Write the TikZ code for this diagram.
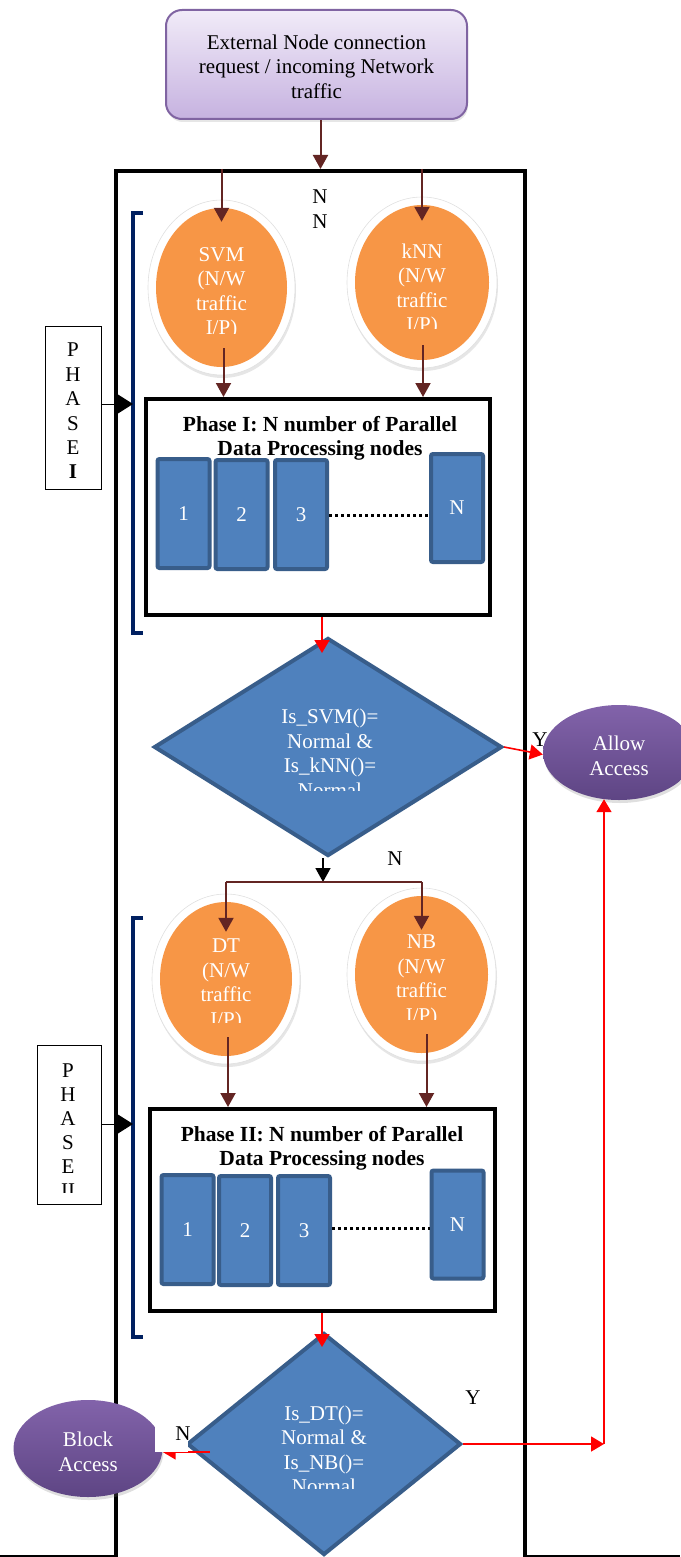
\documentclass[tikz,border=0pt]{standalone}
\usepackage{fontspec}
\setmainfont{Liberation Serif}
\usetikzlibrary{arrows.meta,shapes.geometric,shadows,calc}
\definecolor{dred}{HTML}{632523}
\definecolor{orng}{HTML}{F79646}
\definecolor{bfill}{HTML}{4F81BD}
\definecolor{bline}{HTML}{385D8A}
\definecolor{navy}{HTML}{002060}
\definecolor{ptop}{HTML}{8263AA}
\definecolor{pbot}{HTML}{5E4584}
\definecolor{ltop}{HTML}{F1EBF8}
\definecolor{lbot}{HTML}{C6B2E0}
\definecolor{lline}{HTML}{8064A2}
\begin{document}
\begin{tikzpicture}[x=1pt,y=-1pt,
 txt/.style={font=\fontsize{21}{24.5}\selectfont, align=center, inner sep=0pt},
 wtxt/.style={txt, text=white},
 lbl/.style={font=\fontsize{21}{24.5}\selectfont, inner sep=0pt},
 darr/.style={draw=dred, line width=2pt, -{Triangle[length=14pt,width=15pt]}},
 rarr/.style={draw=red, line width=1.6pt, -{Triangle[length=13pt,width=15pt]}},
 karr/.style={draw=black, line width=1.5pt, -{Triangle[length=14pt,width=15pt]}},
 parr/.style={draw=black, line width=1pt, -{Triangle[length=16pt,width=20pt]}},
 orb/.style={ellipse, fill=orng, draw=none, inner sep=0pt},
 ring/.style={ellipse, fill=white, draw=black!12, line width=0.6pt, inner sep=0pt,
   drop shadow={opacity=0.2, shadow xshift=1pt, shadow yshift=-3pt}},
 pnode/.style={rectangle, draw=bline, line width=4pt, fill=bfill, inner sep=0pt,
   rounded corners=2pt, minimum width=52pt, minimum height=109pt, text=white,
   font=\fontsize{21}{24.5}\selectfont},
 phbox/.style={rectangle, draw=black, line width=4pt, fill=white, inner sep=0pt},
 dia/.style={diamond, draw=bline, line width=4pt, fill=bfill, inner sep=0pt},
 acc/.style={ellipse, top color=ptop, bottom color=pbot, draw=none, inner sep=0pt,
   drop shadow={opacity=0.25, shadow xshift=1pt, shadow yshift=-3pt}},
 brk/.style={draw=navy, line width=3.5pt},
 phl/.style={rectangle, draw=black, line width=1pt, fill=white, inner sep=0pt},
 dots/.style={draw=black, line width=3pt, dash pattern=on 3pt off 3pt}
]
\useasboundingbox (0,0) rectangle (680,1557);

% outer frame
\node[draw=black, line width=4pt, minimum width=409pt, minimum height=1429pt, inner sep=0pt]
  (big) at (320.5,885.5) {};
\draw[line width=1.5pt] (0,1556) -- (116,1556);
\draw[line width=1.5pt] (525,1556) -- (680,1556);

% top request box
\node[rectangle, rounded corners=16pt, top color=ltop, bottom color=lbot, draw=lline,
  line width=2pt, minimum width=301pt, minimum height=109pt, inner sep=0pt,
  drop shadow={opacity=0.2, shadow xshift=1pt, shadow yshift=-3pt}] (top) at (316.5,64.5) {};
\node[txt] (topt) at (316.5,66.5) {External Node connection\\request / incoming Network\\traffic};
\draw[darr] (big.north |- top.south) -- (big.north);

\node[lbl] (n1) at (320,197) {N};
\node[lbl] (n2) at (320,222) {N};

% brackets
\draw[brk] (143,213) -- (133,213) -- (133,633) -- (143,633);
\coordinate (br1) at (133,404);
\draw[brk] (143,918) -- (133,918) -- (133,1337) -- (143,1337);
\coordinate (br2) at (133,1124);

% PHASE labels
\node[phl, minimum width=56pt, minimum height=163pt] (ph1) at (73,407.5) {};
\node[font=\fontsize{21}{24.4}\selectfont, align=center, inner sep=0pt] (ph1t) at (73,411) {P\\H\\A\\S\\E\\\textbf{I}};
\draw[parr] (ph1.east |- br1) -- (br1);

\node[phl, minimum width=64pt, minimum height=159pt] (ph2) at (69,1124.5) {};
\begin{scope}
\clip (40,1050) rectangle (98,1192);
\node[font=\fontsize{21}{24}\selectfont, align=center, inner sep=0pt] (ph2t) at (68,1131) {P\\H\\A\\S\\E\\II};
\end{scope}
\draw[parr] (ph2.east |- br2) -- (br2);

% Phase I ellipses
\node[ring, minimum width=147pt, minimum height=175pt] (svmr) at (221.5,287.5) {};
\node[orb, minimum width=131pt, minimum height=159pt] (svm) at (221.5,287.5) {};
\begin{scope}
\clip (150,200) rectangle (295,333);
\node[wtxt] (svmt) at (221.5,293.5) {SVM\\(N/W\\traffic\\I/P)};
\end{scope}

\node[ring, minimum width=150pt, minimum height=171pt] (knnr) at (422,282.5) {};
\node[orb, minimum width=134pt, minimum height=155pt] (knn) at (422,282.5) {};
\begin{scope}
\clip (350,200) rectangle (495,328);
\node[wtxt] (knnt) at (422,290) {kNN\\(N/W\\traffic\\I/P)};
\end{scope}

% Phase I box
\node[phbox, minimum width=344pt, minimum height=216pt] (p1) at (318,507) {};
\node[txt, font=\fontsize{21.5}{24}\selectfont\bfseries] (p1t) at (320,438) {Phase I: N number of Parallel\\Data Processing nodes};
\node[pnode] (a1) at (183.5,513.5) {1};
\node[pnode] (a2) at (241.5,514.5) {2};
\node[pnode] (a3) at (301,514.5) {3};
\node[pnode, minimum height=108pt] (aN) at (457,508) {N};
\draw[dots] (a3.east |- 0,515) -- (aN.west |- 0,515);

% arrows Phase I
\draw[darr] (svm.north |- big.north) -- ($(svm.north)+(0,14)$);
\draw[darr] (knn.north |- big.north) -- ($(knn.north)+(0,16)$);
\draw[darr] ($(svm.south)+(2,-19)$) -- ($(svm.south |- p1.north)+(2,0)$);
\draw[darr] ($(knn.south)+(1,-15)$) -- ($(knn.south |- p1.north)+(1,0)$);

% decision 1
\node[dia, minimum width=348pt, minimum height=218pt] (d1) at (328,747) {};
\begin{scope}
\clip (200,690) rectangle (460,790);
\node[wtxt] (d1t) at (330,753.5) {Is\_SVM()=\\Normal \&\\Is\_kNN()=\\Normal};
\end{scope}
\coordinate (d1in) at (322,653);
\draw[rarr] (p1.south -| d1in) -- (d1in);

\node[lbl] (y1) at (540,740) {Y};
\node[acc, minimum width=152pt, minimum height=95pt] (allow) at (619,752.5) {};
\node[wtxt] (allowt) at (619,756) {Allow\\Access};
\draw[rarr] (d1.east) -- ($(allow.west)+(0,2)$);

% N branch
\coordinate (split) at (323,882);
\draw[karr] (d1.south -| split) -- (split);
\node[lbl] (n3) at (395,859) {N};

% Phase II ellipses
\node[ring, minimum width=148pt, minimum height=170pt] (dtr) at (226,979) {};
\node[orb, minimum width=132pt, minimum height=154pt] (dt) at (226,979) {};
\begin{scope}
\clip (155,895) rectangle (298,1022);
\node[wtxt] (dtt) at (226,985) {DT\\(N/W\\traffic\\I/P)};
\end{scope}

\node[ring, minimum width=149pt, minimum height=173pt] (nbr) at (421.5,974.5) {};
\node[orb, minimum width=133pt, minimum height=157pt] (nb) at (421.5,974.5) {};
\begin{scope}
\clip (350,890) rectangle (495,1019);
\node[wtxt] (nbt) at (421.5,981) {NB\\(N/W\\traffic\\I/P)};
\end{scope}

\coordinate (sL) at (dt.north |- split);
\coordinate (sR) at (nb.north |- split);
\draw[dred, line width=1.5pt] (sL) -- (sR);
\draw[darr] (sL) -- ($(dt.north)+(0,30)$);
\draw[darr] (sR) -- ($(nb.north)+(0,34)$);

% Phase II box
\node[phbox, minimum width=345pt, minimum height=202pt] (p2) at (322.5,1210) {};
\node[txt, font=\fontsize{21.5}{24}\selectfont\bfseries] (p2t) at (322,1148) {Phase II: N number of Parallel\\Data Processing nodes};
\node[pnode] (b1) at (187.5,1229.5) {1};
\node[pnode] (b2) at (245,1230.5) {2};
\node[pnode] (b3) at (304,1230.5) {3};
\node[pnode, minimum height=108pt] (bN) at (457.5,1224.5) {N};
\draw[dots] (b3.east |- 0,1228) -- (bN.west |- 0,1228);

\draw[darr] ($(dt.south)+(2,-19)$) -- ($(dt.south |- p2.north)+(2,0)$);
\draw[darr] ($(nb.south)+(5,-19)$) -- ($(nb.south |- p2.north)+(5,0)$);

% decision 2
\node[dia, minimum width=274pt, minimum height=222pt] (d2) at (324,1444) {};
\begin{scope}
\clip (220,1390) rectangle (430,1488);
\node[wtxt] (d2t) at (324,1450) {Is\_DT()=\\Normal \&\\Is\_NB()=\\Normal};
\end{scope}
\coordinate (d2in) at (322,1347);
\draw[rarr] (p2.south -| d2in) -- (d2in);

\node[lbl] (y2) at (473,1398) {Y};
\coordinate (corner) at (604,1444);
\draw[rarr] (d2.east) -- (corner);
\draw[rarr] (corner) -- ($(corner |- allow.south)+(0,-1)$);

% block access
\node[acc, minimum width=149pt, minimum height=97pt] (block) at (88,1448.5) {};
\node[wtxt] (blockt) at (88,1451.6) {Block\\Access};
\coordinate (bN) at (210,1452);
\draw[rarr] (bN) -- (bN -| block.east);
\node[fill=white, minimum width=33pt, minimum height=29pt, inner sep=0pt, anchor=north west] (npatch) at (155,1423) {};
\node[lbl] (n4) at (183,1434) {N};
\end{tikzpicture}
\end{document}
